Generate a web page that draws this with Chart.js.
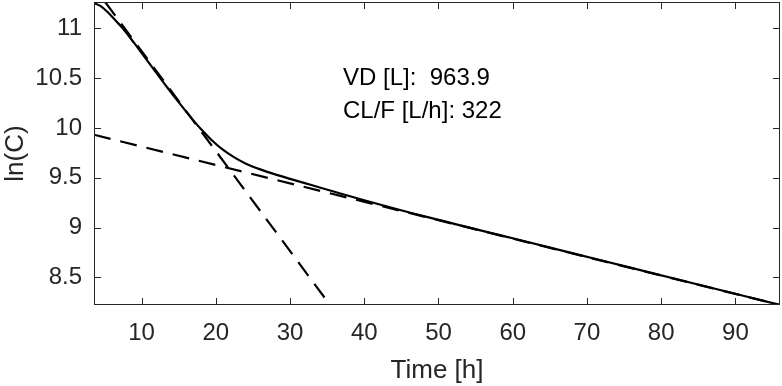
<!DOCTYPE html>
<html>
<head>
<meta charset="utf-8">
<script src="https://cdn.jsdelivr.net/npm/chart.js@4"></script>
<style>
  html, body { margin: 0; padding: 0; background: #fff; }
  #wrap { width: 782px; height: 386px; position: relative; }
</style>
</head>
<body>
<div id="wrap"><canvas id="chart"></canvas></div>
<script>
// ==================================================
// DATA
// ==================================================
const fitTime = [3.6, 4.5, 5.5, 6.5, 7.5, 9, 10.5, 12, 13.5, 15, 16.5, 18, 19.5, 21, 22.5, 24, 26, 28, 30, 33, 36, 40, 48, 60, 72, 84, 96];
const fitLnC  = [11.255, 11.225, 11.16, 11.08, 11.0, 10.855, 10.705, 10.555, 10.405, 10.26, 10.12, 9.99, 9.875, 9.78, 9.705, 9.645, 9.585, 9.535, 9.49, 9.425, 9.36, 9.275, 9.115, 8.893, 8.67, 8.447, 8.223];

// terminal (beta) phase line
const betaTime = [3.6, 96];
const betaLnC  = [9.933, 8.223];

// distribution (alpha) phase line
const alphaTime = [5.1, 35.4];
const alphaLnC  = [11.266, 8.223];

const xTicks = [10, 20, 30, 40, 50, 60, 70, 80, 90];
const yTicks = [8.5, 9, 9.5, 10, 10.5, 11];
const yTickLabels = ["8.5", "9", "9.5", "10", "10.5", "11"];

const infoLines = ["VD [L]:  963.9", "CL/F [L/h]: 322"];

// ==================================================
// HELPERS
// ==================================================
const toPoints = (xs, ys) => xs.map((x, i) => ({ x: x, y: ys[i] }));
const FONT = "'Liberation Sans', Arial, sans-serif";
const AXIS_COLOR = "#262626";

// box + inward tick marks, MATLAB style
const boxPlugin = {
    id: "box",
    afterDraw(chart) {
        const { ctx, chartArea: a, scales } = chart;
        const len = 7;
        ctx.save();
        ctx.strokeStyle = AXIS_COLOR;
        ctx.lineWidth = 1;
        ctx.strokeRect(a.left + 0.5, a.top + 0.5, a.right - a.left - 1, a.bottom - a.top - 1);
        ctx.beginPath();
        xTicks.forEach(v => {
            const px = Math.round(scales.x.getPixelForValue(v)) + 0.5;
            ctx.moveTo(px, a.bottom); ctx.lineTo(px, a.bottom - len);
            ctx.moveTo(px, a.top); ctx.lineTo(px, a.top + len);
        });
        yTicks.forEach(v => {
            const py = Math.round(scales.y.getPixelForValue(v)) + 0.5;
            ctx.moveTo(a.left, py); ctx.lineTo(a.left + len, py);
            ctx.moveTo(a.right, py); ctx.lineTo(a.right - len, py);
        });
        ctx.stroke();
        ctx.restore();
    }
};

const infoPlugin = {
    id: "info",
    afterDraw(chart) {
        const ctx = chart.ctx;
        ctx.save();
        ctx.fillStyle = "#000";
        ctx.font = "24px " + FONT;
        ctx.textBaseline = "alphabetic";
        ctx.fillText(infoLines[0], 343, 85);
        ctx.fillText(infoLines[1], 343, 118);
        ctx.restore();
    }
};

// ==================================================
// CHART
// ==================================================
const lineStyle = { borderColor: "#000", backgroundColor: "#000", pointRadius: 0, fill: false, showLine: true };

new Chart(document.getElementById("chart"), {
    type: "scatter",
    data: {
        datasets: [
            Object.assign({ data: toPoints(fitTime, fitLnC), borderWidth: 2.2, cubicInterpolationMode: "monotone" }, lineStyle),
            Object.assign({ data: toPoints(betaTime, betaLnC), borderWidth: 2.2, borderDash: [17, 10] }, lineStyle),
            Object.assign({ data: toPoints(alphaTime, alphaLnC), borderWidth: 2.2, borderDash: [17, 10] }, lineStyle)
        ]
    },
    options: {
        responsive: true,
        maintainAspectRatio: false,
        animation: false,
        layout: { padding: { top: 2, right: 2, left: 0, bottom: 0 } },
        plugins: { legend: { display: false }, tooltip: { enabled: false } },
        scales: {
            x: {
                type: "linear",
                min: 3.6, max: 96,
                grid: { display: false, drawTicks: false },
                border: { display: false },
                afterBuildTicks: s => { s.ticks = xTicks.map(v => ({ value: v })); },
                afterFit: s => { s.height = 81; s.paddingLeft = 0; s.paddingRight = 0; },
                ticks: {
                    color: AXIS_COLOR, padding: 14,
                    font: { family: FONT, size: 24 },
                    callback: v => String(v)
                },
                title: {
                    display: true, text: "Time [h]", color: AXIS_COLOR,
                    font: { family: FONT, size: 26 }, padding: { top: 0, bottom: 0 }
                }
            },
            y: {
                type: "linear",
                min: 8.223, max: 11.266,
                grid: { display: false, drawTicks: false },
                border: { display: false },
                afterBuildTicks: s => { s.ticks = yTicks.map(v => ({ value: v })); },
                afterFit: s => { s.width = 94; s.paddingTop = 0; s.paddingBottom = 0; },
                ticks: {
                    color: AXIS_COLOR, padding: 12,
                    font: { family: FONT, size: 24 },
                    callback: v => yTickLabels[yTicks.indexOf(v)]
                },
                title: {
                    display: true, text: "ln(C)", color: AXIS_COLOR,
                    font: { family: FONT, size: 26 }, padding: { top: 0, bottom: 0 }
                }
            }
        }
    },
    plugins: [boxPlugin, infoPlugin]
});
</script>
</body>
</html>
